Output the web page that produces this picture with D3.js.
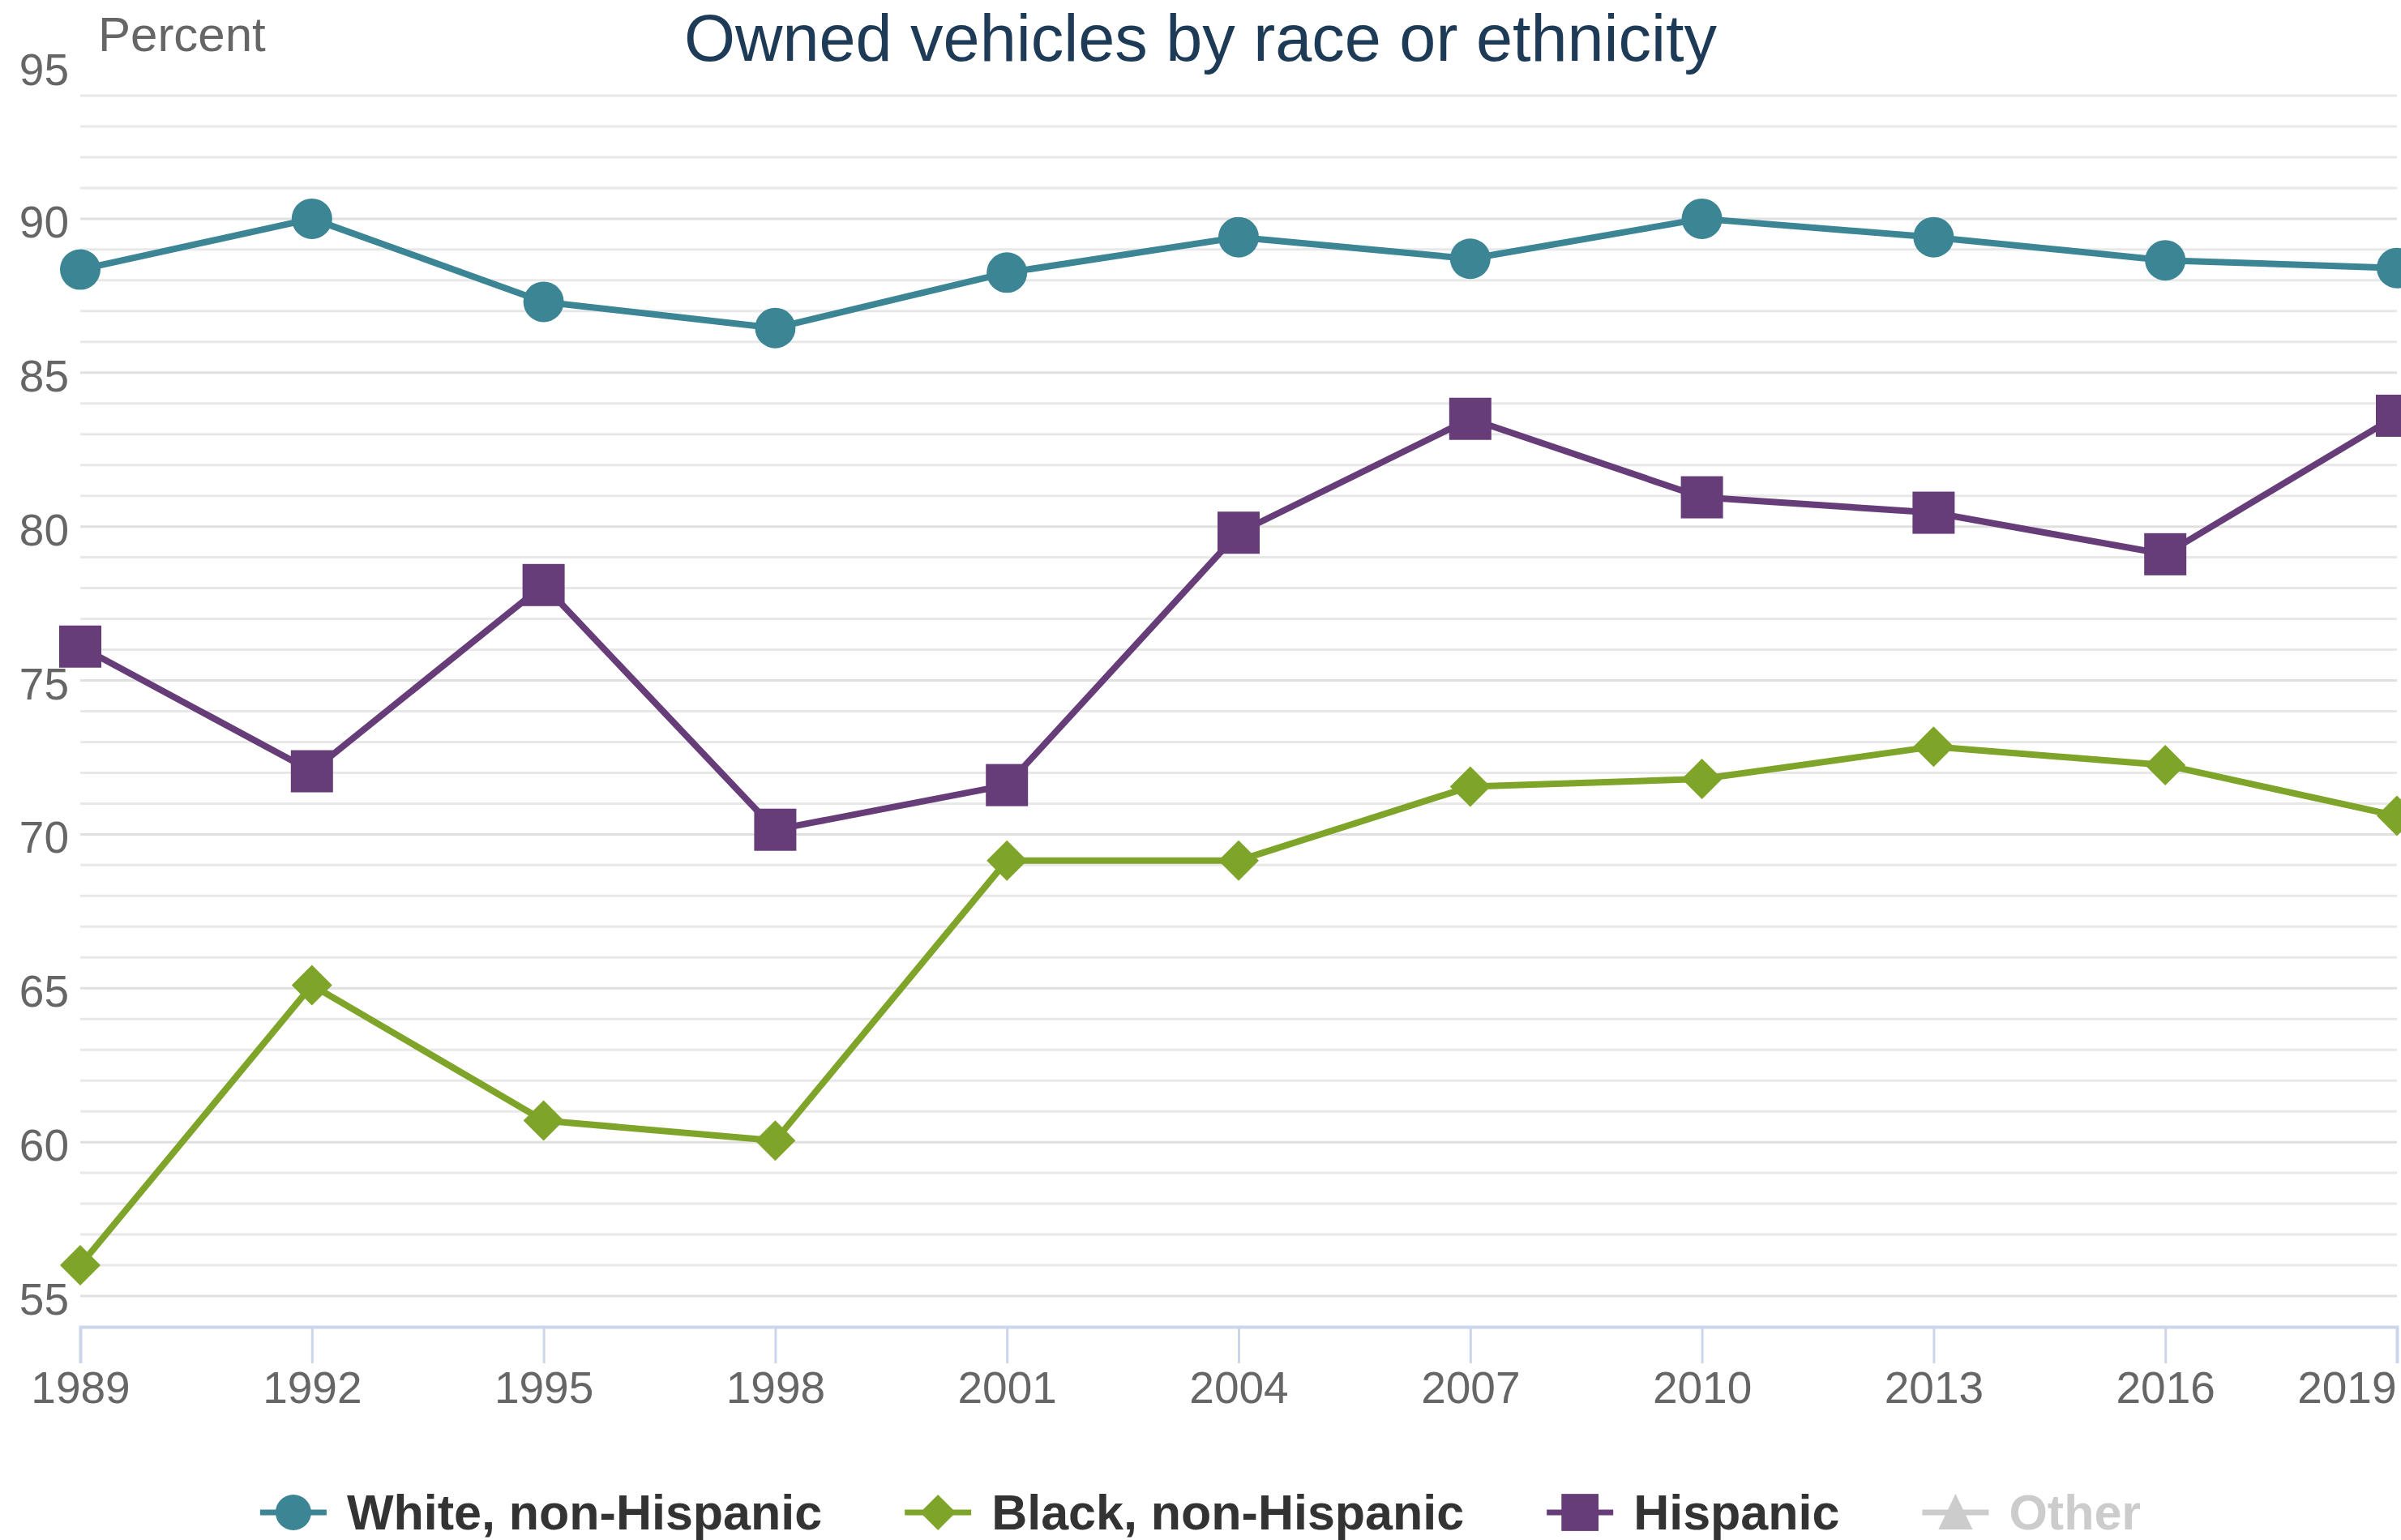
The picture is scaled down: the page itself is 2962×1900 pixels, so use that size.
<!DOCTYPE html>
<html lang="en">
<head>
    <meta charset="UTF-8">
    <title>Owned vehicles by race or ethnicity</title>
    <script src="https://d3js.org/d3.v7.min.js"></script>
    <style>
        body { margin: 0; background: #fff; font-family: "Liberation Sans", Arial, sans-serif; }
    </style>
</head>
<body>
    <div class="chart"></div>

    <script>
        // survey years
        const years = [1989, 1992, 1995, 1998, 2001, 2004, 2007, 2010, 2013, 2016, 2019];
        // percent owning a vehicle
        const white = [88.35, 90.0, 87.3, 86.45, 88.25, 89.4, 88.7, 90.0, 89.4, 88.65, 88.4];
        const black = [56.0, 65.1, 60.7, 60.05, 69.15, 69.15, 71.55, 71.8, 72.85, 72.25, 70.6];
        const hispanic = [76.1, 72.05, 78.1, 70.15, 71.6, 79.8, 83.5, 80.95, 80.45, 79.1, 83.6];
        const yTicks = [55, 60, 65, 70, 75, 80, 85, 90, 95];
        const seriesNames = ['White, non-Hispanic', 'Black, non-Hispanic', 'Hispanic', 'Other'];

        const W = 2962, H = 1900;
        const colors = {'White, non-Hispanic':'#3c8595', 'Black, non-Hispanic':'#7fa42a', 'Hispanic':'#663d78', 'Other':'#cccccc'};
        const shapes = {'White, non-Hispanic':'circle', 'Black, non-Hispanic':'diamond', 'Hispanic':'square', 'Other':'triangle'};

        let series = [
            {name: seriesNames[0], values: white},
            {name: seriesNames[1], values: black},
            {name: seriesNames[2], values: hispanic}
        ];

        let svg = d3.select('.chart').append('svg')
            .attr('width', W).attr('height', H)
            .style('font-family', '"Liberation Sans", Arial, sans-serif');

        let x = d3.scaleLinear().domain([1989, 2019]).range([99, 2957]);
        let y = d3.scaleLinear().domain([54, 95]).range([1637, 80]);

        //grid (every unit, top one not drawn)
        let gridVals = d3.range(55, 95);
        svg.append('g').selectAll('line')
            .data(gridVals)
            .enter()
            .append('line')
            .attr('x1', x.range()[0]).attr('x2', x.range()[1])
            .attr('y1', d => y(d)).attr('y2', d => y(d))
            .attr('stroke', d => d % 5 == 0 ? '#e0e0e0' : '#e8e8e8')
            .attr('stroke-width', 3);

        //y labels
        svg.append('g').selectAll('text')
            .data(yTicks)
            .enter()
            .append('text')
            .attr('x', 85)
            .attr('y', d => d == 95 ? y(d) + 6 : y(d) + 4)
            .attr('text-anchor', 'end')
            .attr('dominant-baseline', 'central')
            .attr('font-size', 55)
            .attr('fill', '#666')
            .text(d => d);

        svg.append('text')
            .attr('x', 121).attr('y', 42)
            .attr('dominant-baseline', 'central')
            .attr('font-size', 60)
            .attr('fill', '#666')
            .text('Percent');

        //x axis
        let xAxis = svg.append('g')
            .attr('transform', 'translate(0,' + y(54) + ')')
            .call(d3.axisBottom(x).tickValues(years).tickFormat(d3.format('d')).tickSize(45).tickPadding(10));
        xAxis.select('.domain').attr('stroke', '#ccd6eb').attr('stroke-width', 4);
        xAxis.selectAll('.tick line').attr('stroke', '#ccd6eb').attr('stroke-width', 3);
        xAxis.selectAll('.tick text')
            .attr('font-size', 55)
            .attr('fill', '#666')
            .attr('font-family', '"Liberation Sans", Arial, sans-serif')
            .each(function(d){
                let w = this.getComputedTextLength();
                let over = x(d) + w / 2 - 2956;
                if(over > 0) d3.select(this).attr('dx', -over);
            });

        //title
        svg.append('text')
            .attr('x', W / 2).attr('y', 47)
            .attr('text-anchor', 'middle')
            .attr('dominant-baseline', 'central')
            .attr('font-size', 81)
            .attr('fill', '#1d3a56')
            .text('Owned vehicles by race or ethnicity');

        function marker(sel, shape, color){
            if(shape == 'circle'){
                sel.append('circle').attr('r', 25).attr('fill', color);
            } else if(shape == 'square'){
                sel.append('rect').attr('x', -26).attr('y', -26).attr('width', 52).attr('height', 52).attr('fill', color);
            } else if(shape == 'diamond'){
                sel.append('path').attr('d', d3.symbol(d3.symbolSquare, 1250)()).attr('transform', 'rotate(45)').attr('fill', color);
            } else {
                sel.append('path').attr('d', 'M0,-26L24,24L-24,24Z').attr('fill', color);
            }
        }

        //lines
        let line = d3.line()
            .x((d,i) => x(years[i]))
            .y(d => y(d));

        series.forEach(s => {
            let g = svg.append('g');
            g.append('path')
                .attr('d', line(s.values))
                .attr('fill', 'none')
                .attr('stroke', colors[s.name])
                .attr('stroke-width', 8)
                .attr('stroke-linejoin', 'round');
            s.values.forEach((v,i) => {
                let m = g.append('g').attr('transform', 'translate(' + x(years[i]) + ',' + y(v) + ')');
                marker(m, shapes[s.name], colors[s.name]);
            });
        });

        //legend
        let legend = svg.append('g');
        let cx = 0;
        seriesNames.forEach((n,i) => {
            let item = legend.append('g').attr('transform', 'translate(' + cx + ',0)');
            item.append('line')
                .attr('x1', -41).attr('x2', 41)
                .attr('stroke', colors[n]).attr('stroke-width', 7);
            marker(item.append('g').attr('transform', 'scale(0.88)'), shapes[n], colors[n]);
            let t = item.append('text')
                .attr('x', 66)
                .attr('dominant-baseline', 'central')
                .attr('font-size', 61)
                .attr('font-weight', 'bold')
                .attr('fill', n == 'Other' ? '#cccccc' : '#333333')
                .text(n);
            cx += 66 + t.node().getComputedTextLength() + 143;
        });
        let lb = legend.node().getBBox();
        legend.attr('transform', 'translate(' + (W / 2 - lb.x - lb.width / 2) + ',1866)');
    </script>
</body>
</html>
